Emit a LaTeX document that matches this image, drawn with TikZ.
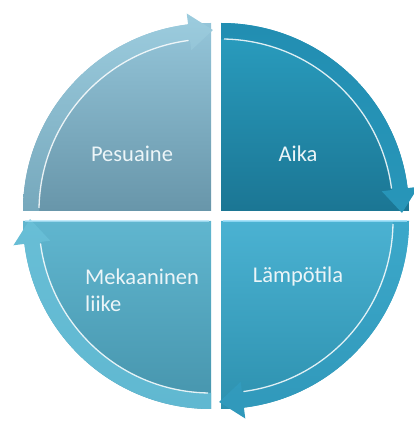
\documentclass[tikz,border=0pt]{standalone}
\usepackage{fontspec}
\setmainfont{Carlito}
\definecolor{tlTop}{RGB}{148,197,217}
\definecolor{tlBot}{RGB}{104,150,170}
\definecolor{tlBandTop}{RGB}{156,204,222}
\definecolor{tlBandBot}{RGB}{118,168,188}
\definecolor{trTop}{RGB}{42,158,192}
\definecolor{trBot}{RGB}{27,118,148}
\definecolor{trBandTop}{RGB}{34,142,178}
\definecolor{trBandBot}{RGB}{40,150,185}
\definecolor{brTop}{RGB}{75,178,210}
\definecolor{brBot}{RGB}{45,145,175}
\definecolor{brBandTop}{RGB}{60,168,202}
\definecolor{brBandBot}{RGB}{48,152,186}
\definecolor{blTop}{RGB}{96,182,207}
\definecolor{blBot}{RGB}{70,148,172}
\definecolor{blBandTop}{RGB}{104,190,214}
\definecolor{blBandBot}{RGB}{96,184,209}
\definecolor{txt}{RGB}{236,245,248}
\newcommand\myquad[6]{%
 \begin{scope}[shift={(#1)}]
  \shade[top color=#3, bottom color=#4] (0,0) -- (#2:188) arc[start angle=#2, end angle=#2+90, radius=188] -- cycle;
  \shade[top color=#5, bottom color=#6] (#2+90:172) -- (#2+90:188) arc[start angle=#2+90, end angle=#2+7, radius=188]
     -- (#2+7:199) -- (#2-0.6:181) -- (#2+7:162) -- (#2+7:172)
     arc[start angle=#2+7, end angle=#2+90, radius=172] -- cycle;
  \draw[white, opacity=.85, line width=1.3] (#2+89:172) arc[start angle=#2+89, end angle=#2+7.5, radius=172];
 \end{scope}}
\tikzset{lbl/.style={text=txt, font=\fontsize{22.5}{27}\selectfont, inner sep=0pt}}
\begin{document}
\begin{tikzpicture}[x=1pt,y=1pt]
\useasboundingbox (0,0) rectangle (414,423);
\coordinate (cTL) at (211,212);
\coordinate (cTR) at (221,212);
\coordinate (cBL) at (211,202);
\coordinate (cBR) at (221,202);
\myquad{cTL}{90}{tlTop}{tlBot}{tlBandTop}{tlBandBot}
\myquad{cTR}{0}{trTop}{trBot}{trBandTop}{trBandBot}
\myquad{cBR}{-90}{brTop}{brBot}{brBandTop}{brBandBot}
\myquad{cBL}{180}{blTop}{blBot}{blBandTop}{blBandBot}
\draw[cyan!40!white, opacity=.8, line width=1.5] ([xshift=2]cBR) -- ++(184,0);
\draw[cyan!30!white, opacity=.7, line width=1.5] ([xshift=-2]cBL) -- ++(-184,0);
\node[lbl, anchor=base] (pesu) at (132,261) {Pesuaine};
\node[lbl, anchor=base] (aika) at (298,261) {Aika};
\node[lbl, anchor=base] (lampo) at (298,140) {Lämpötila};
\node[lbl, anchor=base west, align=left] (meka) at (85,111) {Mekaaninen\\liike};
\end{tikzpicture}
\end{document}
